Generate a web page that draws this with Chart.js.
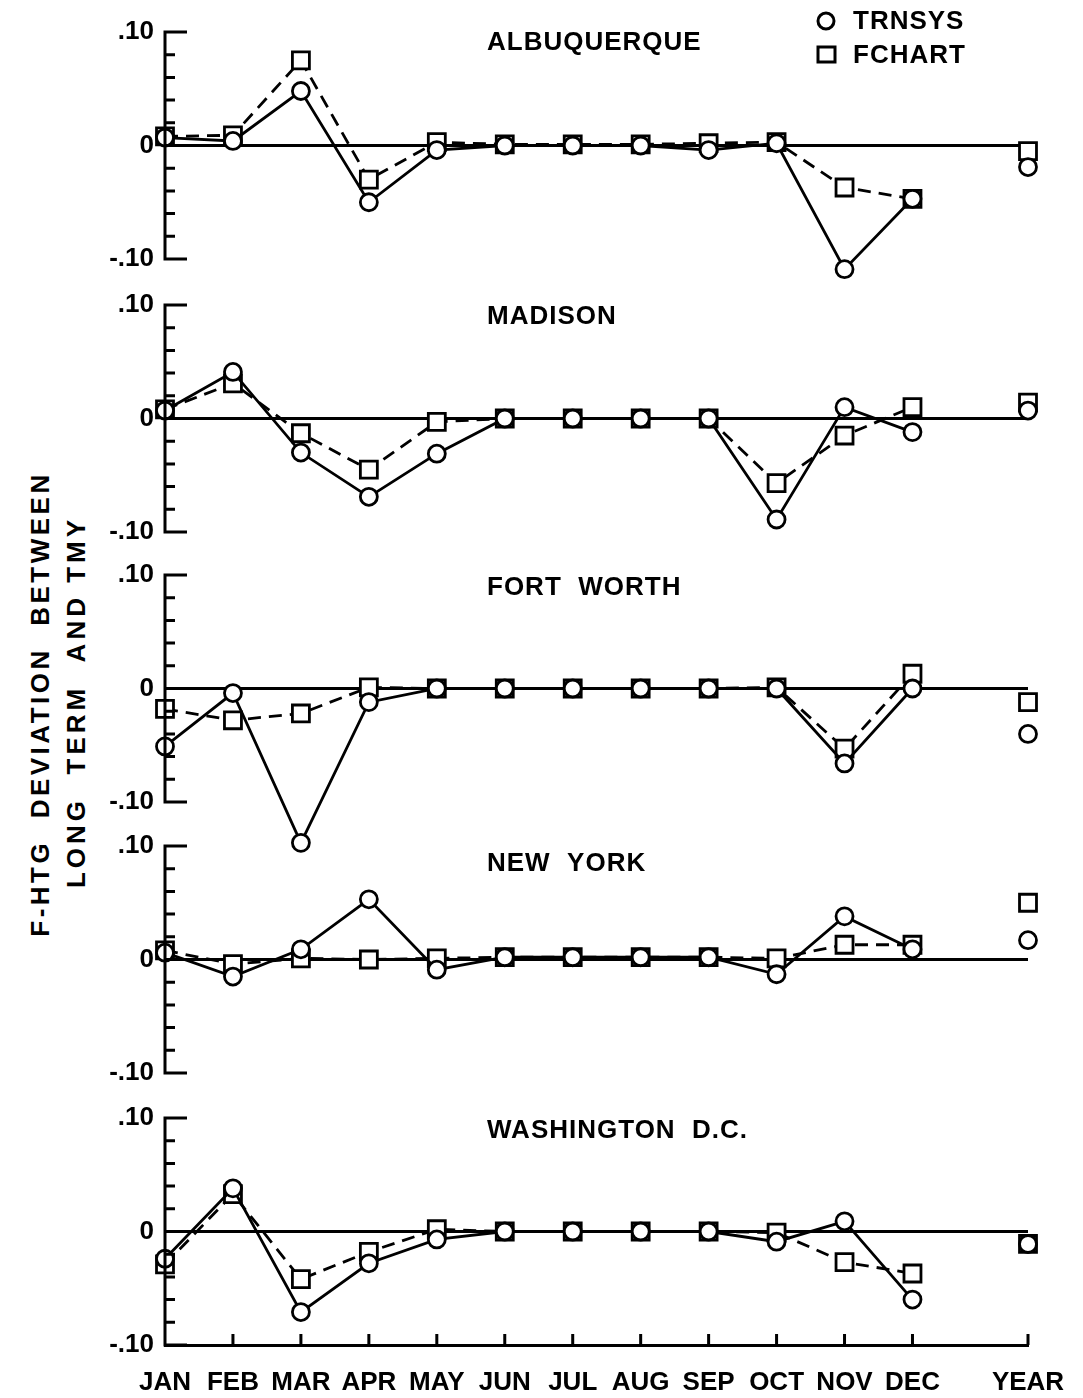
<!DOCTYPE html>
<html>
<head>
<meta charset="utf-8">
<script src="https://cdn.jsdelivr.net/npm/chart.js@4.4.0/dist/chart.umd.min.js"></script>
<style>
  body { margin: 0; background: #fff; width: 1083px; height: 1398px; position: relative; overflow: hidden; }
  canvas { position: absolute; left: 0; }
  .yt { position: absolute; transform: translate(-50%, -50%) rotate(-90deg); white-space: nowrap;
        font: bold 26px "Liberation Sans", Arial, sans-serif; letter-spacing: 3.5px; color: #000; }
</style>
</head>
<body>
<div class="yt" style="left:40px; top:704px">F-HTG&nbsp;&nbsp;DEVIATION&nbsp;&nbsp;BETWEEN</div>
<div class="yt" style="left:76px; top:702px; letter-spacing:4px">LONG&nbsp;&nbsp;TERM&nbsp;&nbsp;AND&nbsp;TMY</div>
<script>
// categories
const MONTHS = ['JAN', 'FEB', 'MAR', 'APR', 'MAY', 'JUN', 'JUL', 'AUG', 'SEP', 'OCT', 'NOV', 'DEC'];
const YEAR_LABEL = 'YEAR';
const MONTH_X = [1, 2, 3, 4, 5, 6, 7, 8, 9, 10, 11, 12];
const YEAR_X = 13.7;
const CITIES = ['ALBUQUERQUE', 'MADISON', 'FORT  WORTH', 'NEW  YORK', 'WASHINGTON  D.C.'];
const Y_TICKS = [-0.10, -0.08, -0.06, -0.04, -0.02, 0, 0.02, 0.04, 0.06, 0.08, 0.10];

// monthly deviations (JAN..DEC) and the annual value [TRNSYS, FCHART]
const ALB_TRNSYS = [0.007, 0.004, 0.048, -0.050, -0.004, 0, 0, 0, -0.004, 0.002, -0.109, -0.047];
const ALB_FCHART = [0.008, 0.009, 0.075, -0.030, 0.003, 0.001, 0.001, 0.001, 0.002, 0.003, -0.037, -0.047];
const ALB_YEAR = [-0.019, -0.005];

const MAD_TRNSYS = [0.007, 0.041, -0.030, -0.069, -0.031, 0, 0, 0, 0, -0.089, 0.010, -0.012];
const MAD_FCHART = [0.008, 0.031, -0.013, -0.045, -0.003, 0, 0, 0, 0, -0.057, -0.015, 0.010];
const MAD_YEAR = [0.007, 0.014];

const FTW_TRNSYS = [-0.051, -0.004, -0.136, -0.012, 0, 0, 0, 0, 0, 0, -0.066, 0];
const FTW_FCHART = [-0.018, -0.028, -0.022, 0.001, 0, 0, 0, 0, 0, 0.001, -0.053, 0.013];
const FTW_YEAR = [-0.040, -0.012];

const NY_TRNSYS = [0.006, -0.015, 0.009, 0.053, -0.009, 0.002, 0.002, 0.002, 0.002, -0.013, 0.038, 0.009];
const NY_FCHART = [0.008, -0.004, 0.001, 0, 0.001, 0.002, 0.002, 0.002, 0.002, 0.001, 0.013, 0.013];
const NY_YEAR = [0.017, 0.050];

const WAS_TRNSYS = [-0.024, 0.038, -0.071, -0.028, -0.007, 0, 0, 0, 0, -0.009, 0.009, -0.060];
const WAS_FCHART = [-0.029, 0.033, -0.042, -0.018, 0.002, 0, 0, 0, 0, -0.001, -0.027, -0.037];
const WAS_YEAR = [-0.011, -0.011];

const TRNSYS = [ALB_TRNSYS, MAD_TRNSYS, FTW_TRNSYS, NY_TRNSYS, WAS_TRNSYS];
const FCHART = [ALB_FCHART, MAD_FCHART, FTW_FCHART, NY_FCHART, WAS_FCHART];
const YEARLY = [ALB_YEAR, MAD_YEAR, FTW_YEAR, NY_YEAR, WAS_YEAR];

// layout
const PANEL_TOP = [32, 305, 575, 846, 1118];
const PANEL_H = 227;          // pixels from .10 to -.10
const EXTRA_MIN = -0.14;      // upper panels extend below -.10 so low points still draw
const PAD_TOP = 32;
const PAD_BOTTOM = 30;
const CANVAS_W = 1087;        // a bit wider than the page; the overflow is cut off
const PAD_RIGHT = 59;
const TITLE_X = 487;
const TITLE_DY = [11, 12, 13, 18, 13];
const FONT = 'bold 26px "Liberation Sans", Arial, sans-serif';

// axis line, inward ticks, panel title, legend
const panelDecor = {
  id: 'panelDecor',
  afterDraw(chart) {
    const ctx = chart.ctx, ys = chart.scales.y, xs = chart.scales.x, area = chart.chartArea;
    const yTop = ys.getPixelForValue(0.10), yBot = ys.getPixelForValue(-0.10);
    ctx.save();
    ctx.strokeStyle = '#000';
    ctx.lineWidth = 3;
    ctx.beginPath();
    ctx.moveTo(area.left, yTop - 1.5);
    ctx.lineTo(area.left, yBot + 1.5);
    Y_TICKS.forEach(v => {
      const py = ys.getPixelForValue(v);
      const len = Math.abs(v) > 0.099 ? 22 : 10;
      ctx.moveTo(area.left, py);
      ctx.lineTo(area.left + len, py);
    });
    if (xs.options.display) {
      MONTH_X.slice(1).concat([YEAR_X]).forEach(v => {
        const px = xs.getPixelForValue(v);
        ctx.moveTo(px, area.bottom);
        ctx.lineTo(px, area.bottom - 11);
      });
    }
    ctx.stroke();
    const i = chart.options.panelIndex;
    ctx.fillStyle = '#000';
    ctx.font = FONT;
    ctx.letterSpacing = '1px';
    ctx.textBaseline = 'middle';
    ctx.textAlign = 'left';
    ctx.fillText(CITIES[i], TITLE_X, area.top + TITLE_DY[i]);
    if (i === 0) {
      ctx.lineWidth = 3;
      ctx.beginPath();
      ctx.arc(826, 21, 8, 0, Math.PI * 2);
      ctx.stroke();
      ctx.strokeRect(818, 47, 17, 15);
      ctx.fillText('TRNSYS', 853, 22);
      ctx.fillText('FCHART', 853, 56);
    }
    ctx.restore();
  }
};

function seriesStyle(isTrn) {
  return {
    borderColor: '#000',
    borderWidth: 2.8,
    borderDash: isTrn ? [] : [13, 8],
    pointStyle: isTrn ? 'circle' : 'rect',
    pointRadius: isTrn ? 8.5 : 12,
    pointBackgroundColor: '#fff',
    pointBorderColor: '#000',
    pointBorderWidth: 2.8,
    tension: 0,
    clip: false
  };
}

function makePanel(i) {
  const last = i === CITIES.length - 1;
  const yMin = last ? -0.10 : EXTRA_MIN;
  const areaH = PANEL_H * (0.10 - yMin) / 0.20;
  const canvas = document.createElement('canvas');
  const top = PANEL_TOP[i] - PAD_TOP;
  const height = last ? 1398 - top : PAD_TOP + areaH + PAD_BOTTOM;
  const padBottom = last ? height - PAD_TOP - PANEL_H - 50 : PAD_BOTTOM;
  canvas.width = CANVAS_W;
  canvas.height = Math.ceil(height);
  canvas.style.top = top + 'px';
  document.body.appendChild(canvas);

  new Chart(canvas, {
    type: 'line',
    data: {
      datasets: [
        Object.assign({ label: 'TRNSYS', data: MONTH_X.map((x, j) => ({ x, y: TRNSYS[i][j] })) }, seriesStyle(true)),
        Object.assign({ label: 'FCHART', data: MONTH_X.map((x, j) => ({ x, y: FCHART[i][j] })) }, seriesStyle(false)),
        Object.assign({ label: 'TRNSYS year', showLine: false, data: [{ x: YEAR_X, y: YEARLY[i][0] }] }, seriesStyle(true)),
        Object.assign({ label: 'FCHART year', showLine: false, data: [{ x: YEAR_X, y: YEARLY[i][1] }] }, seriesStyle(false))
      ]
    },
    options: {
      panelIndex: i,
      responsive: false,
      animation: false,
      layout: { padding: { top: PAD_TOP, right: PAD_RIGHT, bottom: padBottom + (canvas.height - height), left: 0 } },
      plugins: { legend: { display: false }, tooltip: { enabled: false } },
      scales: {
        x: {
          type: 'linear',
          display: last,
          min: 1,
          max: YEAR_X,
          afterBuildTicks: s => { s.ticks = MONTH_X.concat([YEAR_X]).map(v => ({ value: v })); },
          afterFit: s => { s.height = last ? 50 : 0; },
          grid: { display: false, drawTicks: false },
          border: { display: true, color: '#000', width: 3 },
          ticks: {
            autoSkip: false,
            maxRotation: 0,
            padding: 22,
            color: '#000',
            font: { family: '"Liberation Sans", Arial, sans-serif', size: 26, weight: 'bold' },
            callback: v => (v === YEAR_X ? YEAR_LABEL : MONTHS[Math.round(v) - 1])
          }
        },
        y: {
          min: yMin,
          max: 0.10,
          afterFit: s => { s.width = 165; },
          afterBuildTicks: s => { s.ticks = Y_TICKS.map(v => ({ value: v })); },
          grid: {
            drawTicks: false,
            color: c => (Math.round(c.tick.value * 100) === 0 ? '#000' : 'rgba(0,0,0,0)'),
            lineWidth: 3
          },
          border: { display: false },
          ticks: {
            autoSkip: false,
            padding: 11,
            color: '#000',
            font: { family: '"Liberation Sans", Arial, sans-serif', size: 26, weight: 'bold' },
            callback: v => {
              const r = Math.round(v * 100);
              return r === 10 ? '.10' : r === 0 ? '0' : r === -10 ? '-.10' : '';
            }
          }
        }
      }
    },
    plugins: [panelDecor]
  });
}

CITIES.forEach((c, i) => makePanel(i));
</script>
</body>
</html>
